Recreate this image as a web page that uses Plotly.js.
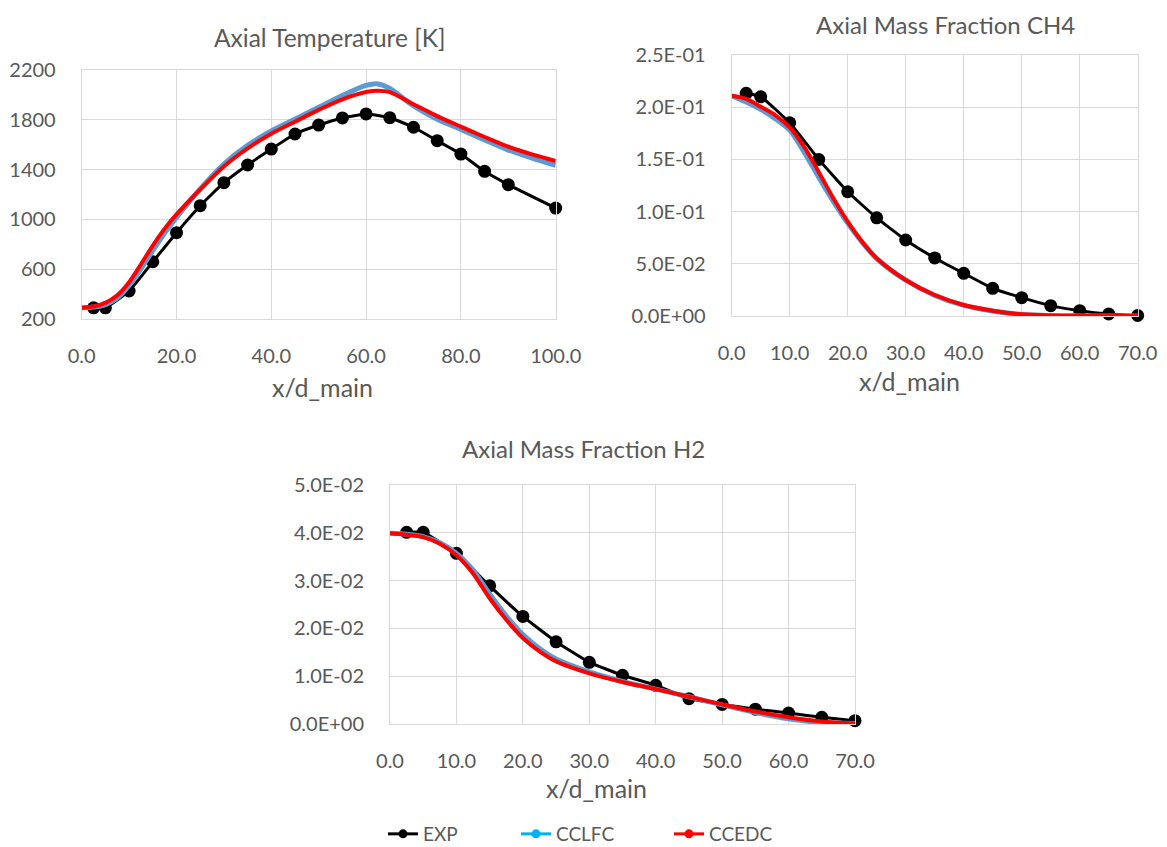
<!DOCTYPE html>
<html>
<head>
<meta charset="utf-8">
<script src="https://cdn.plot.ly/plotly-3.0.1.min.js"></script>
<style>
html,body{margin:0;padding:0;background:#fff;}
#chart{width:1167px;height:847px;}
</style>
</head>
<body>
<div id="chart"></div>
<script>
// ---------- Data ----------
// Axial temperature [K]
const expTx = [2.5,5,10,15,20,25,30,35,40,45,50,55,60,65,70,75,80,85,90,100];
const expT  = [290,290,425,660,893,1110,1295,1437,1565,1686,1758,1815,1847,1817,1740,1632,1525,1386,1279,1091];
const modelTx = [0,2.5,5,7.5,10,12.5,15,17.5,20,25,30,35,40,45,50,55,60,62.5,65,70,75,80,85,90,95,100];
const cclfcT  = [290,296,316,368,470,605,750,890,1015,1245,1445,1595,1710,1805,1900,1995,2076,2088,2052,1912,1805,1723,1638,1557,1493,1435];
const ccedcT  = [290,300,330,390,495,640,790,925,1040,1240,1425,1570,1688,1785,1880,1965,2023,2034,2022,1925,1830,1745,1662,1584,1522,1469];
const tempTickVals = [200,600,1000,1400,1800,2200];

// Axial mass fraction CH4
const expCx = [2.5,5,10,15,20,25,30,35,40,45,50,55,60,65,70];
const expC  = [0.2133,0.210,0.185,0.150,0.119,0.094,0.0728,0.0556,0.0409,0.0265,0.0176,0.0099,0.0051,0.0019,0.0005];
const modelCx = [0,2.5,5,7.5,10,12.5,15,17.5,20,22.5,25,30,35,40,45,50,55,60,65,70];
const cclfcC  = [0.211,0.205,0.198,0.189,0.178,0.157,0.133,0.110,0.089,0.0705,0.0550,0.0343,0.0198,0.0102,0.0048,0.0014,0.0004,0.0001,0.0,0.0];
const ccedcC  = [0.211,0.208,0.2005,0.1925,0.1807,0.162,0.138,0.113,0.0904,0.0712,0.0553,0.0345,0.0201,0.0105,0.0051,0.0016,0.0005,0.0002,0.0001,0.0];
const ch4TickVals = [0,0.05,0.10,0.15,0.20,0.25];
const ch4TickText = ['0.0E+00','5.0E-02','1.0E-01','1.5E-01','2.0E-01','2.5E-01'];

// Axial mass fraction H2
const expHx = [2.5,5,10,15,20,25,30,35,40,45,50,55,60,65,70];
const expH  = [0.0401,0.0401,0.0357,0.0289,0.0225,0.0172,0.0129,0.0102,0.0081,0.0053,0.0041,0.0031,0.0023,0.0014,0.0007];
const modelHx = [0,2.5,5,7.5,10,12.5,15,17.5,20,22.5,25,30,35,40,45,50,55,60,65,70];
const cclfcH  = [0.0399,0.0397,0.0392,0.0379,0.0357,0.0322,0.0272,0.0226,0.0187,0.0158,0.0136,0.0109,0.0089,0.0073,0.0057,0.0040,0.0024,0.0011,0.0003,0.0001];
const ccedcH  = [0.0399,0.0396,0.0391,0.0377,0.0353,0.0315,0.0263,0.0218,0.0180,0.0152,0.0131,0.0106,0.0088,0.0073,0.0057,0.0041,0.0026,0.0014,0.0005,0.0001];
const h2TickVals = [0,0.01,0.02,0.03,0.04,0.05];
const h2TickText = ['0.0E+00','1.0E-02','2.0E-02','3.0E-02','4.0E-02','5.0E-02'];

const seriesNames = ['EXP','CCLFC','CCEDC'];
const titles = ['Axial Temperature [K]','Axial Mass Fraction CH4','Axial Mass Fraction H2'];
const xTitle = 'x/d_main';

// ---------- Styles ----------
const FONT = 'Lato, "Open Sans", sans-serif';
const GREY = '#595959';
const GRID = '#D9D9D9';
const C_EXP = '#000000', C_LFC = '#5B9BD5', C_LFC_LEG = '#00B0F0', C_EDC = '#FF0000';

function expTrace(x, y, xa, ya){
  return {x:x, y:y, xaxis:xa, yaxis:ya, type:'scatter', mode:'lines+markers', showlegend:false,
    line:{color:C_EXP, width:3, shape:'spline', smoothing:0.4}, marker:{color:C_EXP, size:13}, cliponaxis:false};
}
function modelTrace(x, y, xa, ya, color, width){
  return {x:x, y:y, xaxis:xa, yaxis:ya, type:'scatter', mode:'lines', showlegend:false,
    line:{color:color, width:width, shape:'spline', smoothing:0.8}};
}
function legendTrace(name, color, legendId){
  return {x:[null], y:[null], xaxis:'x3', yaxis:'y3', type:'scatter', mode:'lines+markers', name:name,
    line:{color:color, width:3}, marker:{color:color, size:9}, showlegend:true, legend:legendId};
}

const data = [
  expTrace(expTx, expT, 'x', 'y'),
  modelTrace(modelTx, cclfcT, 'x', 'y', C_LFC, 5),
  modelTrace(modelTx, ccedcT, 'x', 'y', C_EDC, 4),
  expTrace(expCx, expC, 'x2', 'y2'),
  modelTrace(modelCx, cclfcC, 'x2', 'y2', C_LFC, 5),
  modelTrace(modelCx, ccedcC, 'x2', 'y2', C_EDC, 4),
  expTrace(expHx, expH, 'x3', 'y3'),
  modelTrace(modelHx, cclfcH, 'x3', 'y3', C_LFC, 5),
  modelTrace(modelHx, ccedcH, 'x3', 'y3', C_EDC, 4),
  legendTrace(seriesNames[0], C_EXP, 'legend'),
  legendTrace(seriesNames[1], C_LFC_LEG, 'legend2'),
  legendTrace(seriesNames[2], C_EDC, 'legend3')
];

const TICKFONT = {family:FONT, size:20, color:GREY};
function xa(domain, range, dtick, anchor){
  return {domain:domain, range:range, dtick:dtick, tick0:0, anchor:anchor, tickformat:'.1f',
    showgrid:true, gridcolor:GRID, gridwidth:1, showline:true, linecolor:GRID, linewidth:1, mirror:true,
    zeroline:false, ticks:'', ticklabelstandoff:19, tickfont:TICKFONT, fixedrange:true, automargin:false};
}
function ya(domain, range, tickvals, ticktext, anchor){
  const o = {domain:domain, range:range, tickmode:'array', tickvals:tickvals, anchor:anchor,
    showgrid:true, gridcolor:GRID, gridwidth:1, showline:true, linecolor:GRID, linewidth:1, mirror:true,
    zeroline:false, ticks:'', ticklabelstandoff:21, tickfont:TICKFONT, fixedrange:true, automargin:false};
  if (ticktext) o.ticktext = ticktext;
  return o;
}

const W = 1167, H = 847;
const px = v => v / W, py = v => 1 - v / H;

function legendAt(xPix){
  return {orientation:'h', x:px(xPix), xanchor:'left', xref:'container', y:py(834), yanchor:'middle', yref:'container',
    font:{family:FONT, size:19, color:GREY}, bgcolor:'rgba(0,0,0,0)', borderwidth:0};
}
function label(text, xPix, yPix, size){
  return {text:text, x:px(xPix), y:py(yPix), xref:'paper', yref:'paper', xanchor:'center', yanchor:'middle',
    showarrow:false, font:{family:FONT, size:size, color:GREY}};
}

const layout = {
  width:W, height:H, paper_bgcolor:'#fff', plot_bgcolor:'#fff',
  margin:{l:0, r:0, t:0, b:0, autoexpand:false},
  showlegend:true,
  legend: legendAt(383),
  legend2: legendAt(516),
  legend3: legendAt(669),
  xaxis: xa([px(81.7), px(555.7)], [0,100], 20, 'y'),
  yaxis: ya([py(319), py(70)], [200,2200], tempTickVals, null, 'x'),
  xaxis2: xa([px(731.7), px(1137.7)], [0,70], 10, 'y2'),
  yaxis2: ya([py(316), py(55)], [0,0.25], ch4TickVals, ch4TickText, 'x2'),
  xaxis3: xa([px(390), px(855)], [0,70], 10, 'y3'),
  yaxis3: ya([py(724), py(485)], [0,0.05], h2TickVals, h2TickText, 'x3'),
  annotations: [
    label(titles[0], 329.7, 37, 24.5),
    label(titles[1], 945.7, 25, 24),
    label(titles[2], 583, 448, 24),
    label(xTitle, 322.5, 387, 25),
    label(xTitle, 909.3, 381, 25),
    label(xTitle, 597, 788, 25)
  ]
};

Plotly.newPlot('chart', data, layout, {displayModeBar:false, staticPlot:true});
</script>
</body>
</html>
